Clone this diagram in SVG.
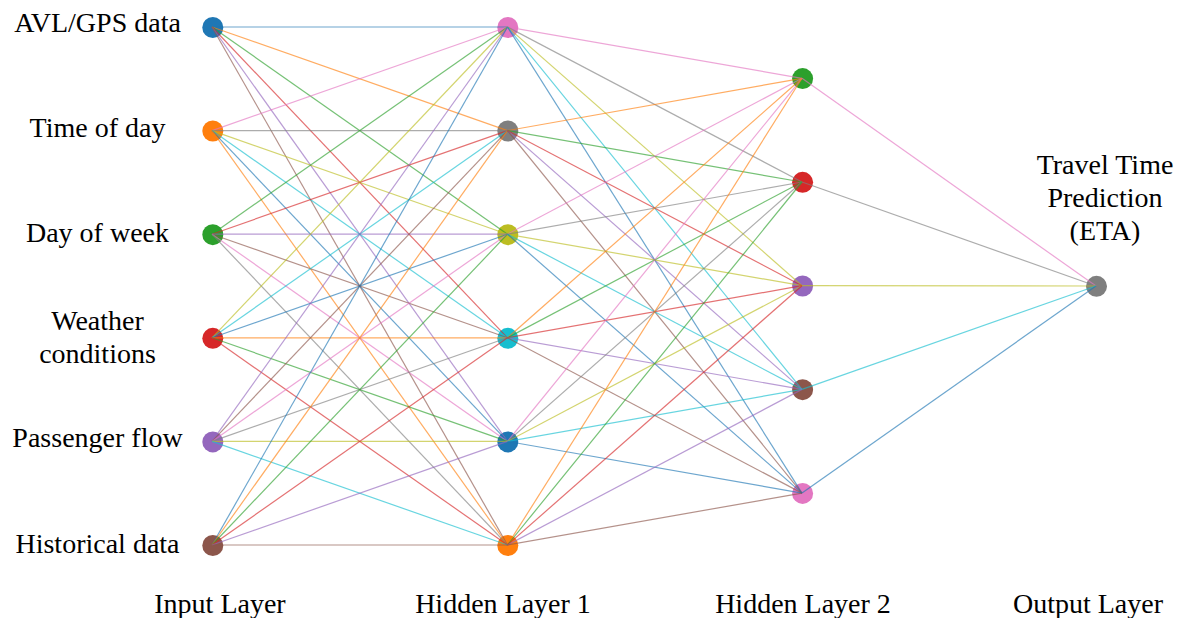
<svg xmlns="http://www.w3.org/2000/svg" width="1183" height="618" viewBox="0 0 1183 618">
<style>
text{font-family:"Liberation Serif","Times New Roman",serif;font-size:28px;fill:#000;text-anchor:middle}
#connectors line{stroke-width:1.2;stroke-opacity:0.65;fill:none}
.n{stroke:none}
.c0{stroke:#1f77b4}.c1{stroke:#ff7f0e}.c2{stroke:#2ca02c}.c3{stroke:#d62728}.c4{stroke:#9467bd}
.c5{stroke:#8c564b}.c6{stroke:#e377c2}.c7{stroke:#7f7f7f}.c8{stroke:#bcbd22}.c9{stroke:#17becf}
.f0{fill:#1f77b4}.f1{fill:#ff7f0e}.f2{fill:#2ca02c}.f3{fill:#d62728}.f4{fill:#9467bd}
.f5{fill:#8c564b}.f6{fill:#e377c2}.f7{fill:#7f7f7f}.f8{fill:#bcbd22}.f9{fill:#17becf}
</style>
<rect width="1183" height="618" fill="#fff"/>
<g id="nodes">
<g id="in0"><circle class="f0" cx="212.8" cy="27.5" r="10.5"/><text x="97.5" y="32">AVL/GPS data</text></g>
<g id="in1"><circle class="f1" cx="212.8" cy="131" r="10.5"/><text x="97.5" y="137">Time of day</text></g>
<g id="in2"><circle class="f2" cx="212.8" cy="234.7" r="10.5"/><text x="97.5" y="242">Day of week</text></g>
<g id="in3"><circle class="f3" cx="212.8" cy="338.3" r="10.5"/><text x="97.5" y="330">Weather</text><text x="97.5" y="363">conditions</text></g>
<g id="in4"><circle class="f4" cx="212.8" cy="441.9" r="10.5"/><text x="97.5" y="447">Passenger flow</text></g>
<g id="in5"><circle class="f5" cx="212.8" cy="545.5" r="10.5"/><text x="97.5" y="553">Historical data</text></g>
<g id="h1_0"><circle class="f6" cx="507.8" cy="27.5" r="10.5"/></g>
<g id="h1_1"><circle class="f7" cx="507.8" cy="131" r="10.5"/></g>
<g id="h1_2"><circle class="f8" cx="507.8" cy="234.7" r="10.5"/></g>
<g id="h1_3"><circle class="f9" cx="507.8" cy="338.3" r="10.5"/></g>
<g id="h1_4"><circle class="f0" cx="507.8" cy="441.9" r="10.5"/></g>
<g id="h1_5"><circle class="f1" cx="507.8" cy="545.5" r="10.5"/></g>
<g id="h2_0"><circle class="f2" cx="802.6" cy="78.6" r="10.5"/></g>
<g id="h2_1"><circle class="f3" cx="802.6" cy="182.3" r="10.5"/></g>
<g id="h2_2"><circle class="f4" cx="802.6" cy="286" r="10.5"/></g>
<g id="h2_3"><circle class="f5" cx="802.6" cy="389.7" r="10.5"/></g>
<g id="h2_4"><circle class="f6" cx="802.6" cy="493.4" r="10.5"/></g>
<g id="out"><circle class="f7" cx="1096.5" cy="286.3" r="10.5"/><text x="1105" y="174">Travel Time</text><text x="1105" y="207">Prediction</text><text x="1105" y="240">(ETA)</text></g>
</g>
<g id="connectors">
<line class="c0" x1="212" y1="27" x2="507.5" y2="27"/>
<line class="c1" x1="212" y1="27" x2="507.5" y2="130.6"/>
<line class="c2" x1="212" y1="27" x2="507.5" y2="234.2"/>
<line class="c3" x1="212" y1="27" x2="507.5" y2="337.8"/>
<line class="c4" x1="212" y1="27" x2="507.5" y2="441.4"/>
<line class="c5" x1="212" y1="27" x2="507.5" y2="545"/>
<line class="c6" x1="212" y1="130.6" x2="507.5" y2="27"/>
<line class="c7" x1="212" y1="130.6" x2="507.5" y2="130.6"/>
<line class="c8" x1="212" y1="130.6" x2="507.5" y2="234.2"/>
<line class="c9" x1="212" y1="130.6" x2="507.5" y2="337.8"/>
<line class="c0" x1="212" y1="130.6" x2="507.5" y2="441.4"/>
<line class="c1" x1="212" y1="130.6" x2="507.5" y2="545"/>
<line class="c2" x1="212" y1="234.2" x2="507.5" y2="27"/>
<line class="c3" x1="212" y1="234.2" x2="507.5" y2="130.6"/>
<line class="c4" x1="212" y1="234.2" x2="507.5" y2="234.2"/>
<line class="c5" x1="212" y1="234.2" x2="507.5" y2="337.8"/>
<line class="c6" x1="212" y1="234.2" x2="507.5" y2="441.4"/>
<line class="c7" x1="212" y1="234.2" x2="507.5" y2="545"/>
<line class="c8" x1="212" y1="337.8" x2="507.5" y2="27"/>
<line class="c9" x1="212" y1="337.8" x2="507.5" y2="130.6"/>
<line class="c0" x1="212" y1="337.8" x2="507.5" y2="234.2"/>
<line class="c1" x1="212" y1="337.8" x2="507.5" y2="337.8"/>
<line class="c2" x1="212" y1="337.8" x2="507.5" y2="441.4"/>
<line class="c3" x1="212" y1="337.8" x2="507.5" y2="545"/>
<line class="c4" x1="212" y1="441.4" x2="507.5" y2="27"/>
<line class="c5" x1="212" y1="441.4" x2="507.5" y2="130.6"/>
<line class="c6" x1="212" y1="441.4" x2="507.5" y2="234.2"/>
<line class="c7" x1="212" y1="441.4" x2="507.5" y2="337.8"/>
<line class="c8" x1="212" y1="441.4" x2="507.5" y2="441.4"/>
<line class="c9" x1="212" y1="441.4" x2="507.5" y2="545"/>
<line class="c0" x1="212" y1="545" x2="507.5" y2="27"/>
<line class="c1" x1="212" y1="545" x2="507.5" y2="130.6"/>
<line class="c2" x1="212" y1="545" x2="507.5" y2="234.2"/>
<line class="c3" x1="212" y1="545" x2="507.5" y2="337.8"/>
<line class="c4" x1="212" y1="545" x2="507.5" y2="441.4"/>
<line class="c5" x1="212" y1="545" x2="507.5" y2="545"/>
<line class="c6" x1="507.5" y1="27" x2="802" y2="78.3"/>
<line class="c7" x1="507.5" y1="27" x2="802" y2="182"/>
<line class="c8" x1="507.5" y1="27" x2="802" y2="285.7"/>
<line class="c9" x1="507.5" y1="27" x2="802" y2="389.4"/>
<line class="c0" x1="507.5" y1="27" x2="802" y2="493.1"/>
<line class="c1" x1="507.5" y1="130.6" x2="802" y2="78.3"/>
<line class="c2" x1="507.5" y1="130.6" x2="802" y2="182"/>
<line class="c3" x1="507.5" y1="130.6" x2="802" y2="285.7"/>
<line class="c4" x1="507.5" y1="130.6" x2="802" y2="389.4"/>
<line class="c5" x1="507.5" y1="130.6" x2="802" y2="493.1"/>
<line class="c6" x1="507.5" y1="234.2" x2="802" y2="78.3"/>
<line class="c7" x1="507.5" y1="234.2" x2="802" y2="182"/>
<line class="c8" x1="507.5" y1="234.2" x2="802" y2="285.7"/>
<line class="c9" x1="507.5" y1="234.2" x2="802" y2="389.4"/>
<line class="c0" x1="507.5" y1="234.2" x2="802" y2="493.1"/>
<line class="c1" x1="507.5" y1="337.8" x2="802" y2="78.3"/>
<line class="c2" x1="507.5" y1="337.8" x2="802" y2="182"/>
<line class="c3" x1="507.5" y1="337.8" x2="802" y2="285.7"/>
<line class="c4" x1="507.5" y1="337.8" x2="802" y2="389.4"/>
<line class="c5" x1="507.5" y1="337.8" x2="802" y2="493.1"/>
<line class="c6" x1="507.5" y1="441.4" x2="802" y2="78.3"/>
<line class="c7" x1="507.5" y1="441.4" x2="802" y2="182"/>
<line class="c8" x1="507.5" y1="441.4" x2="802" y2="285.7"/>
<line class="c9" x1="507.5" y1="441.4" x2="802" y2="389.4"/>
<line class="c0" x1="507.5" y1="441.4" x2="802" y2="493.1"/>
<line class="c1" x1="507.5" y1="545" x2="802" y2="78.3"/>
<line class="c2" x1="507.5" y1="545" x2="802" y2="182"/>
<line class="c3" x1="507.5" y1="545" x2="802" y2="285.7"/>
<line class="c4" x1="507.5" y1="545" x2="802" y2="389.4"/>
<line class="c5" x1="507.5" y1="545" x2="802" y2="493.1"/>
<line class="c6" x1="802" y1="78.3" x2="1096" y2="286"/>
<line class="c7" x1="802" y1="182" x2="1096" y2="286"/>
<line class="c8" x1="802" y1="285.7" x2="1096" y2="286"/>
<line class="c9" x1="802" y1="389.4" x2="1096" y2="286"/>
<line class="c0" x1="802" y1="493.1" x2="1096" y2="286"/>
</g>
<g id="layer-labels">
<text x="220" y="613">Input Layer</text>
<text x="503" y="613">Hidden Layer 1</text>
<text x="803" y="613">Hidden Layer 2</text>
<text x="1088" y="613">Output Layer</text>
</g>
</svg>
